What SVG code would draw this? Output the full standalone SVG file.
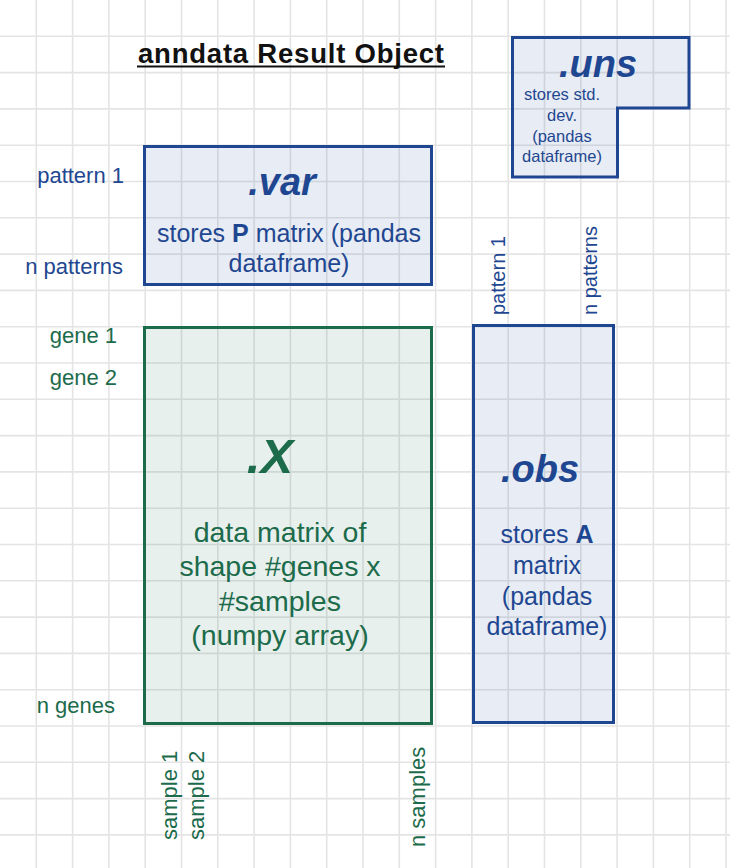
<svg xmlns="http://www.w3.org/2000/svg" width="730" height="868" viewBox="0 0 730 868">
<style>
text { font-family: "Liberation Sans", Arial, Helvetica, sans-serif; }
.grid line { stroke: #e4e4e4; stroke-width: 1.6; }
.blue { fill: #1f4791; }
.green { fill: #1c6b4b; }
.bbox { fill: #1f4791; fill-opacity: 0.1; stroke: #1f4791; stroke-width: 3; stroke-linejoin: miter; }
.gbox { fill: #1c6b4b; fill-opacity: 0.1; stroke: #1c6b4b; stroke-width: 3; }
.head { font-weight: bold; font-style: italic; }
.lab { font-size: 22px; }
.vlab { font-size: 20px; }
</style>
<rect width="730" height="868" fill="#ffffff"/>
<g class="grid">
<line x1="36.3" y1="0" x2="36.3" y2="868"/><line x1="72.6" y1="0" x2="72.6" y2="868"/><line x1="108.9" y1="0" x2="108.9" y2="868"/><line x1="145.2" y1="0" x2="145.2" y2="868"/><line x1="181.5" y1="0" x2="181.5" y2="868"/><line x1="217.8" y1="0" x2="217.8" y2="868"/><line x1="254.1" y1="0" x2="254.1" y2="868"/><line x1="290.4" y1="0" x2="290.4" y2="868"/><line x1="326.7" y1="0" x2="326.7" y2="868"/><line x1="363" y1="0" x2="363" y2="868"/><line x1="399.3" y1="0" x2="399.3" y2="868"/><line x1="435.6" y1="0" x2="435.6" y2="868"/><line x1="471.9" y1="0" x2="471.9" y2="868"/><line x1="508.2" y1="0" x2="508.2" y2="868"/><line x1="544.5" y1="0" x2="544.5" y2="868"/><line x1="580.8" y1="0" x2="580.8" y2="868"/><line x1="617.1" y1="0" x2="617.1" y2="868"/><line x1="653.4" y1="0" x2="653.4" y2="868"/><line x1="689.7" y1="0" x2="689.7" y2="868"/><line x1="726" y1="0" x2="726" y2="868"/>
<line x1="0" y1="36.3" x2="730" y2="36.3"/><line x1="0" y1="72.6" x2="730" y2="72.6"/><line x1="0" y1="108.9" x2="730" y2="108.9"/><line x1="0" y1="145.2" x2="730" y2="145.2"/><line x1="0" y1="181.5" x2="730" y2="181.5"/><line x1="0" y1="217.8" x2="730" y2="217.8"/><line x1="0" y1="254.1" x2="730" y2="254.1"/><line x1="0" y1="290.4" x2="730" y2="290.4"/><line x1="0" y1="326.7" x2="730" y2="326.7"/><line x1="0" y1="363" x2="730" y2="363"/><line x1="0" y1="399.3" x2="730" y2="399.3"/><line x1="0" y1="435.6" x2="730" y2="435.6"/><line x1="0" y1="471.9" x2="730" y2="471.9"/><line x1="0" y1="508.2" x2="730" y2="508.2"/><line x1="0" y1="544.5" x2="730" y2="544.5"/><line x1="0" y1="580.8" x2="730" y2="580.8"/><line x1="0" y1="617.1" x2="730" y2="617.1"/><line x1="0" y1="653.4" x2="730" y2="653.4"/><line x1="0" y1="689.7" x2="730" y2="689.7"/><line x1="0" y1="726" x2="730" y2="726"/><line x1="0" y1="762.3" x2="730" y2="762.3"/><line x1="0" y1="798.6" x2="730" y2="798.6"/><line x1="0" y1="834.9" x2="730" y2="834.9"/>
</g>
<g id="title">
<text x="291" y="63" text-anchor="middle" font-size="27.5" font-weight="bold" fill="#111111" textLength="306" lengthAdjust="spacing">anndata Result Object</text>
<line x1="137" y1="66.5" x2="445" y2="66.5" stroke="#111111" stroke-width="2"/>
</g>
<g id="uns">
<path class="bbox" d="M512.5,37.5 H689 V108 H617.5 V177 H512.5 Z"/>
<text class="head blue" x="598" y="77" text-anchor="middle" font-size="38">.uns</text>
<text class="blue" font-size="16.5" text-anchor="middle"><tspan x="562" y="100">stores std.</tspan><tspan x="562" y="121">dev.</tspan><tspan x="562" y="142">(pandas</tspan><tspan x="562" y="162">dataframe)</tspan></text>
</g>
<g id="var">
<rect class="bbox" x="144.5" y="146.5" width="287" height="138"/>
<text class="head blue" x="282" y="195" text-anchor="middle" font-size="38">.var</text>
<text class="blue" font-size="25" text-anchor="middle"><tspan x="289" y="242">stores <tspan font-weight="bold">P</tspan> matrix (pandas</tspan><tspan x="289" y="272">dataframe)</tspan></text>
</g>
<g id="X">
<rect class="gbox" x="144.5" y="327.5" width="287" height="396"/>
<text class="head green" x="270" y="473" text-anchor="middle" font-size="49">.X</text>
<text class="green" font-size="28.5" text-anchor="middle"><tspan x="280" y="542">data matrix of</tspan><tspan x="280" y="576">shape #genes x</tspan><tspan x="280" y="611">#samples</tspan><tspan x="280" y="645">(numpy array)</tspan></text>
</g>
<g id="obs">
<rect class="bbox" x="473.5" y="325.5" width="140" height="397"/>
<text class="head blue" x="540" y="482" text-anchor="middle" font-size="38">.obs</text>
<text class="blue" font-size="25" text-anchor="middle"><tspan x="547" y="543">stores <tspan font-weight="bold">A</tspan></tspan><tspan x="547" y="574">matrix</tspan><tspan x="547" y="605">(pandas</tspan><tspan x="547" y="635">dataframe)</tspan></text>
</g>
<g id="labels">
<text class="lab blue" x="124" y="183" text-anchor="end">pattern 1</text>
<text class="lab blue" x="123" y="274" text-anchor="end">n patterns</text>
<text class="lab green" x="117" y="343" text-anchor="end">gene 1</text>
<text class="lab green" x="117" y="385" text-anchor="end">gene 2</text>
<text class="lab green" x="115" y="713" text-anchor="end">n genes</text>
<text class="vlab blue" transform="translate(505,315) rotate(-90)">pattern 1</text>
<text class="vlab blue" transform="translate(597,315) rotate(-90)">n patterns</text>
<text class="lab green" transform="translate(177,840) rotate(-90)">sample 1</text>
<text class="lab green" transform="translate(204,840) rotate(-90)">sample 2</text>
<text class="lab green" transform="translate(425,847) rotate(-90)">n samples</text>
</g>
</svg>
